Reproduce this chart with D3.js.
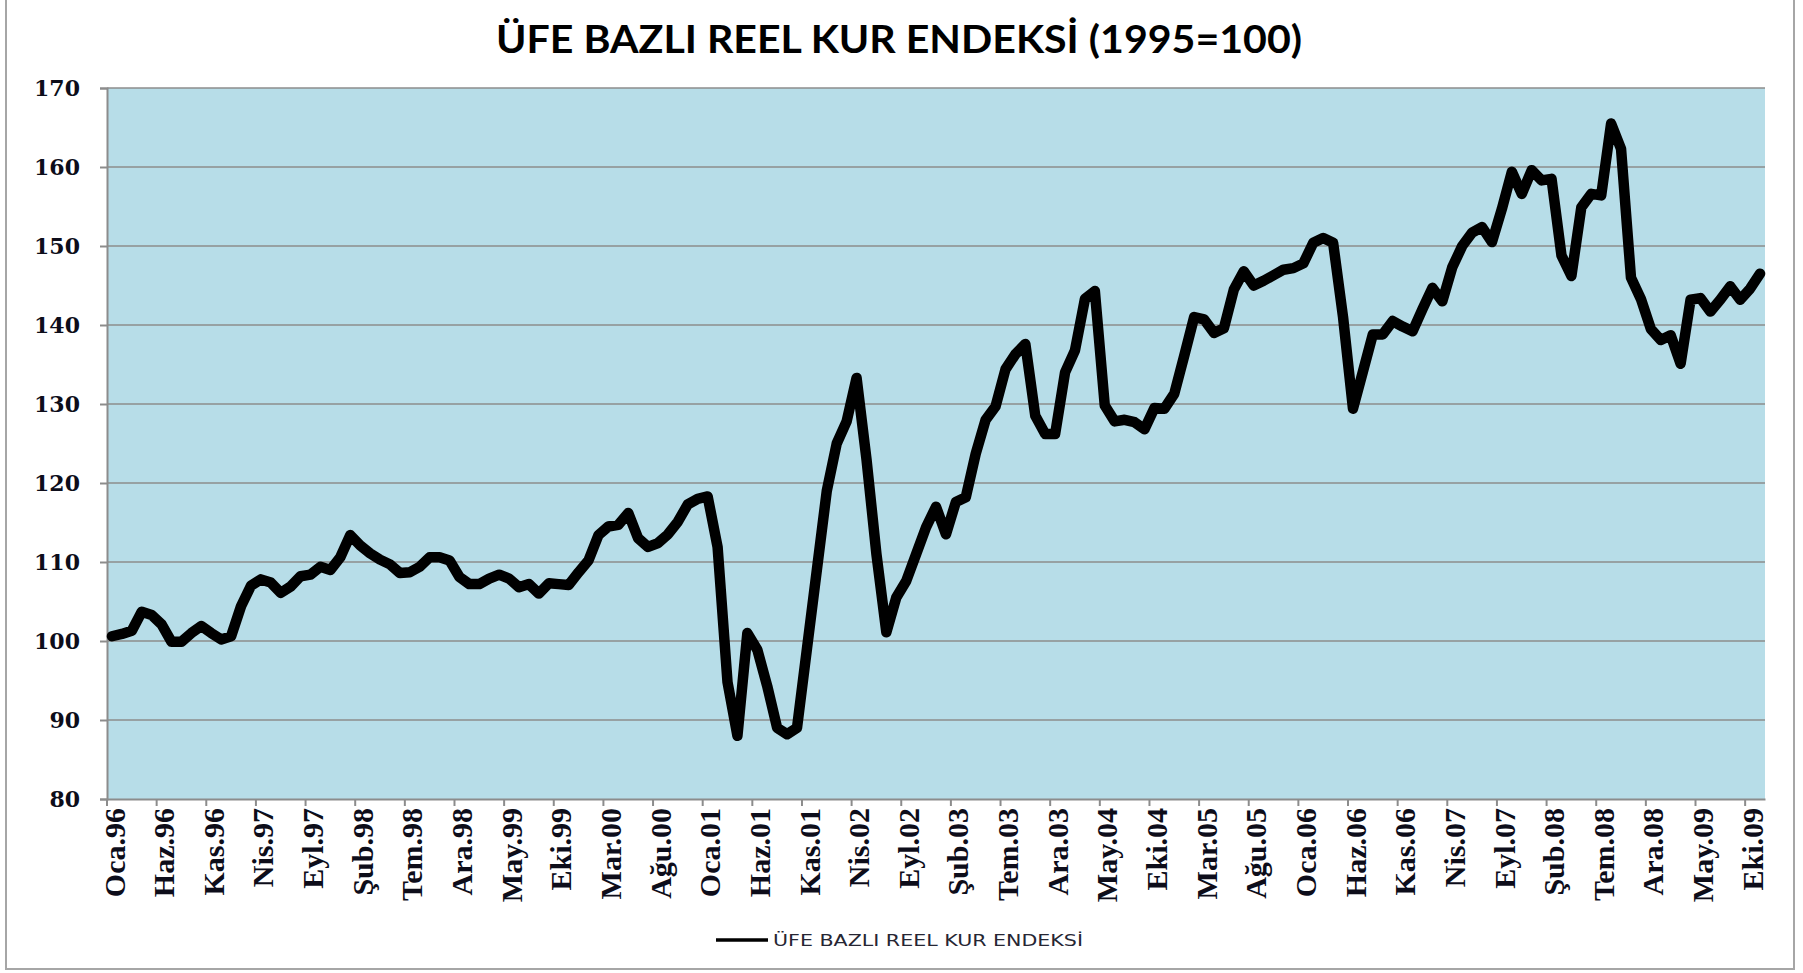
<!DOCTYPE html>
<html>
<head>
<meta charset="utf-8">
<script src="https://cdn.jsdelivr.net/npm/d3@7/dist/d3.min.js"></script>
<style>
  html, body { margin: 0; padding: 0; background: #ffffff; }
  svg { display: block; }
</style>
</head>
<body>
<svg id="chart" width="1803" height="973"></svg>
<script>
// ---------- DATA ----------
const titleText = "ÜFE BAZLI REEL KUR ENDEKSİ (1995=100)";
const seriesName = "ÜFE BAZLI REEL KUR ENDEKSİ";
const monthNames = ["Oca","Şub","Mar","Nis","May","Haz","Tem","Ağu","Eyl","Eki","Kas","Ara"];
const yearNames = ["96","97","98","99","00","01","02","03","04","05","06","07","08","09"];
const values = [
  100.6,100.9,101.3,103.7,103.3,102.1,99.9,99.9,101.0,101.9,101.0,100.2,
  100.6,104.4,107.0,107.8,107.4,106.1,106.9,108.2,108.4,109.4,109.0,110.6,
  113.4,112.1,111.1,110.3,109.7,108.6,108.7,109.4,110.6,110.6,110.2,108.1,
  107.2,107.2,107.9,108.4,107.9,106.8,107.2,106.0,107.3,107.2,107.1,108.7,
  110.2,113.4,114.5,114.7,116.2,113.0,111.9,112.4,113.5,115.1,117.3,118.0,
  118.3,111.9,94.8,88.0,101.0,98.9,94.3,89.0,88.2,89.0,99.0,109.0,
  119.0,125.0,127.8,133.3,123.0,111.0,101.1,105.5,107.6,111.0,114.4,117.0,
  113.5,117.6,118.2,123.7,128.0,129.7,134.4,136.3,137.6,128.5,126.2,126.2,
  134.0,136.8,143.3,144.3,129.8,127.8,128.0,127.7,126.8,129.5,129.4,131.3,
  136.1,141.0,140.7,139.0,139.6,144.5,146.8,145.0,145.6,146.3,147.0,147.2,
  147.8,150.4,151.0,150.4,141.0,129.4,134.1,138.8,138.8,140.5,139.8,139.2,
  142.0,144.7,143.0,147.3,150.0,151.7,152.4,150.5,154.7,159.4,156.6,159.6,
  158.3,158.5,148.8,146.2,154.9,156.6,156.4,165.5,162.3,146.0,143.3,139.5,
  138.1,138.7,135.1,143.2,143.4,141.7,143.2,144.9,143.2,144.6,146.5
];
const tickLabels = ["Oca.96","Haz.96","Kas.96","Nis.97","Eyl.97","Şub.98","Tem.98","Ara.98",
  "May.99","Eki.99","Mar.00","Ağu.00","Oca.01","Haz.01","Kas.01","Nis.02","Eyl.02","Şub.03",
  "Tem.03","Ara.03","May.04","Eki.04","Mar.05","Ağu.05","Oca.06","Haz.06","Kas.06","Nis.07",
  "Eyl.07","Şub.08","Tem.08","Ara.08","May.09","Eki.09"];
const yTicks = [80,90,100,110,120,130,140,150,160,170];

// categories: one per monthly value
const categories = [];
yearNames.forEach(y => monthNames.forEach(m => categories.push(m + "." + y)));
categories.length = values.length;
const data = categories.map((c, i) => ({ c: c, v: values[i] }));

// ---------- LAYOUT ----------
const svg = d3.select("#chart");
const plot = { left: 107, right: 1765, top: 88, bottom: 799 };

const x = d3.scaleBand().domain(categories).range([plot.left, plot.right]).padding(0);
const y = d3.scaleLinear().domain([80, 170]).range([plot.bottom, plot.top]);
const cx = c => x(c) + x.bandwidth() / 2;

// outer chart border
svg.append("rect")
  .attr("x", 6).attr("y", -2).attr("width", 1788).attr("height", 971)
  .attr("fill", "#ffffff").attr("stroke", "#a6a6a6").attr("stroke-width", 2);

// plot background
svg.append("rect")
  .attr("x", plot.left).attr("y", plot.top)
  .attr("width", plot.right - plot.left).attr("height", plot.bottom - plot.top)
  .attr("fill", "#b7dde8");

// gridlines
svg.append("g").selectAll("line")
  .data(yTicks.filter(t => t > 80))
  .join("line")
  .attr("x1", plot.left).attr("x2", plot.right)
  .attr("y1", d => y(d)).attr("y2", d => y(d))
  .attr("stroke", "#8c8c8c").attr("stroke-width", 1.6);

// y axis
const yAxis = svg.append("g")
  .attr("transform", `translate(${plot.left},0)`)
  .call(d3.axisLeft(y).tickValues(yTicks).tickSize(7).tickPadding(20).tickFormat(d3.format("d")));
yAxis.select(".domain").attr("stroke", "#8c8c8c").attr("stroke-width", 2);
yAxis.selectAll(".tick line").attr("stroke", "#8c8c8c").attr("stroke-width", 2);
yAxis.selectAll(".tick text")
  .attr("font-family", "'DejaVu Serif', 'Liberation Serif', serif")
  .attr("font-weight", "bold")
  .attr("font-size", 22)
  .attr("fill", "#0d0d1a")
  .attr("dy", "0.36em");

// x axis (labels every 5 months)
const xAxis = svg.append("g")
  .attr("transform", `translate(0,${plot.bottom})`)
  .call(d3.axisBottom(x).tickValues(tickLabels).tickSize(0).tickPadding(0));
xAxis.select(".domain").attr("stroke", "#8c8c8c").attr("stroke-width", 2);
xAxis.selectAll(".tick text")
  .attr("font-family", "'Liberation Serif', 'Times New Roman', serif")
  .attr("font-weight", "bold")
  .attr("font-size", 30)
  .attr("fill", "#0d0d1a")
  .attr("text-anchor", "end")
  .attr("transform", "rotate(-90)")
  .attr("x", -9)
  .attr("y", 0)
  .attr("dy", "0.42em");

// x tick marks at category boundaries every 5 months
const boundaryCats = categories.filter((c, i) => i % 5 === 0);
svg.append("g").selectAll("line")
  .data(boundaryCats)
  .join("line")
  .attr("x1", d => x(d)).attr("x2", d => x(d))
  .attr("y1", plot.bottom).attr("y2", plot.bottom + 7)
  .attr("stroke", "#8c8c8c").attr("stroke-width", 2);

// series line
const line = d3.line().x(d => cx(d.c)).y(d => y(d.v));
svg.append("path")
  .datum(data)
  .attr("d", line)
  .attr("fill", "none")
  .attr("stroke", "#000000")
  .attr("stroke-width", 10.5)
  .attr("stroke-linejoin", "round")
  .attr("stroke-linecap", "round");

// title
svg.append("text")
  .attr("x", 899).attr("y", 53)
  .attr("text-anchor", "middle")
  .attr("font-family", "Lato, 'Open Sans', sans-serif")
  .attr("font-weight", "bold")
  .attr("font-size", 39)
  .attr("fill", "#000000")
  .attr("textLength", 806)
  .attr("lengthAdjust", "spacingAndGlyphs")
  .text(titleText);

// legend
const lg = svg.append("g");
lg.append("line")
  .attr("x1", 716).attr("x2", 768).attr("y1", 940).attr("y2", 940)
  .attr("stroke", "#000000").attr("stroke-width", 3.5);
lg.append("text")
  .attr("x", 773).attr("y", 946)
  .attr("font-family", "'DejaVu Sans', Verdana, sans-serif")
  .attr("font-size", 15)
  .attr("fill", "#262633")
  .attr("textLength", 310)
  .attr("lengthAdjust", "spacingAndGlyphs")
  .text(seriesName);
</script>
</body>
</html>
